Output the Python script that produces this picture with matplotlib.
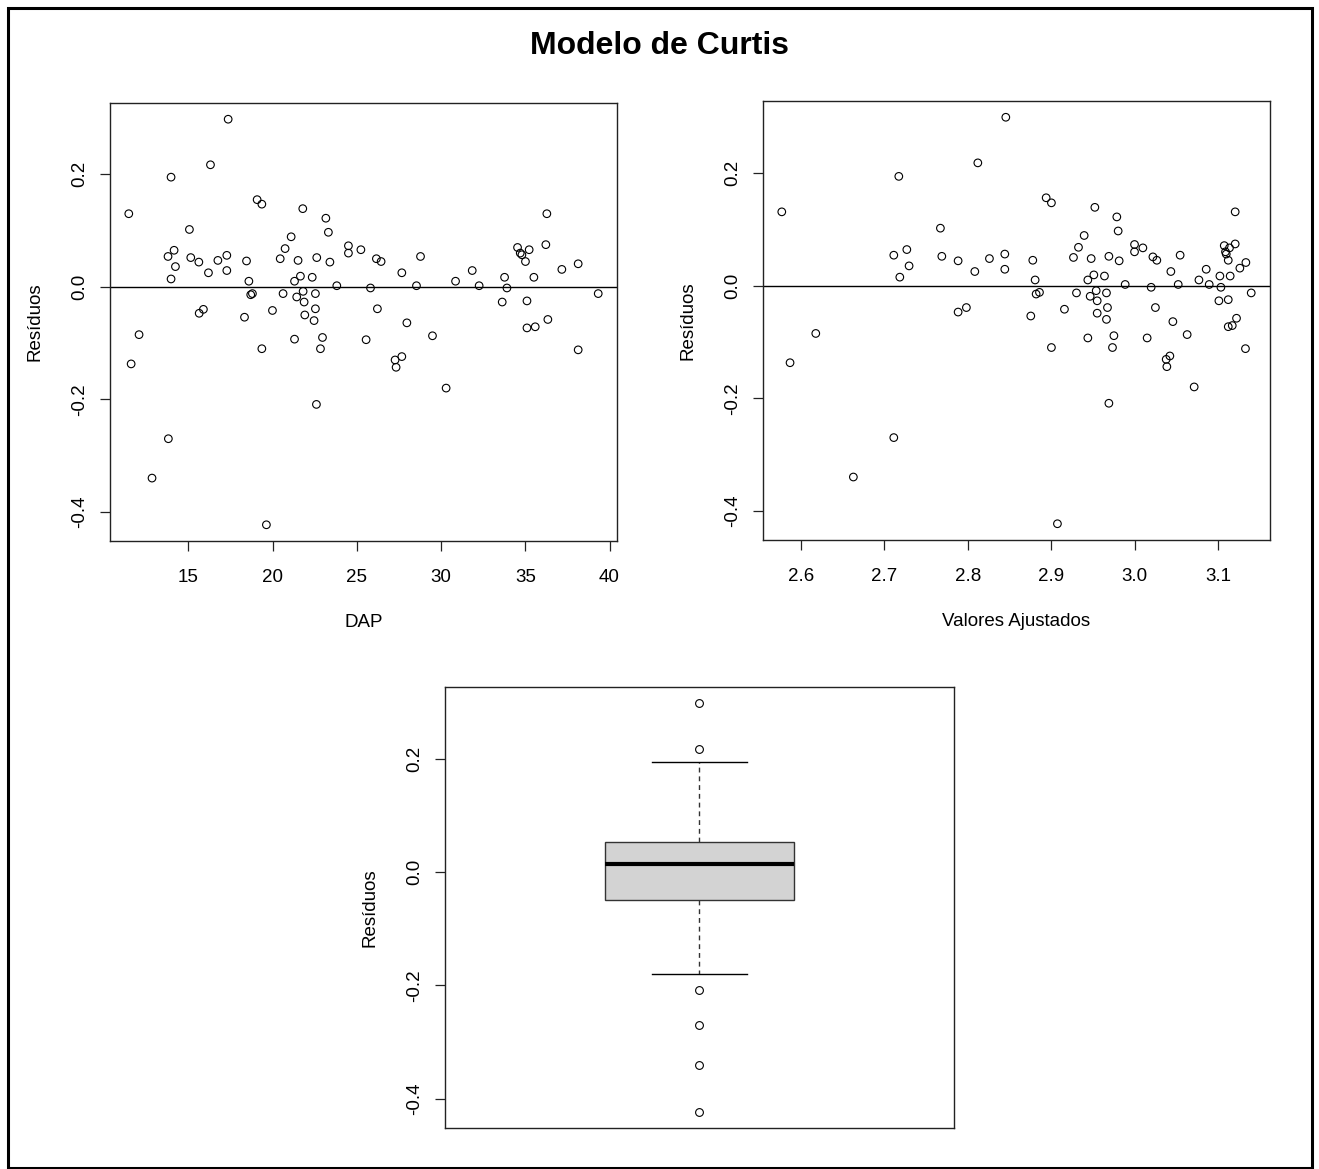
import matplotlib
matplotlib.use('Agg')
import matplotlib.pyplot as plt
from matplotlib.patches import Rectangle
from matplotlib.ticker import FormatStrFormatter

plt.rcParams['font.family'] = ['Liberation Sans', 'DejaVu Sans']
plt.rcParams['axes.unicode_minus'] = False

TITULO = 'Modelo de Curtis'
YLABEL = 'Resíduos'

dap = [17.36, 16.31, 13.97, 11.46, 19.08, 19.36, 21.79, 23.16, 23.31, 15.06,
       21.10, 20.74, 24.50, 24.50, 25.24, 14.15, 13.79, 15.14, 15.62, 16.75,
       17.28, 18.45, 20.45, 21.51, 22.62, 23.40, 14.23, 16.19, 17.28, 13.97,
       18.59, 21.65, 21.30, 22.35, 23.81, 18.70, 18.80, 20.62, 21.43, 21.81,
       21.87, 22.54, 15.89, 15.64, 18.33, 19.99, 21.91, 22.54, 22.46, 12.07,
       11.60, 19.36, 21.30, 22.96, 22.84, 25.55, 22.60, 13.81, 12.84, 19.63,
       36.28, 26.16, 26.44, 28.78, 27.67, 31.85, 30.86, 25.81, 28.54, 32.26,
       33.77, 33.91, 34.54, 34.70, 34.80, 35.23, 35.01, 36.22, 35.51, 37.17,
       38.14, 39.33, 26.22, 33.63, 35.10, 27.97, 35.10, 35.59, 36.34, 29.49,
       27.27, 27.67, 27.33, 38.14, 30.30]
res_dap = [0.298, 0.217, 0.195, 0.130, 0.155, 0.147, 0.139, 0.122, 0.097, 0.102,
           0.089, 0.068, 0.073, 0.060, 0.066, 0.065, 0.054, 0.052, 0.044, 0.047,
           0.056, 0.046, 0.050, 0.047, 0.052, 0.044, 0.036, 0.025, 0.029, 0.014,
           0.010, 0.019, 0.010, 0.017, 0.002, -0.014, -0.012, -0.012, -0.018, -0.008,
           -0.027, -0.012, -0.040, -0.047, -0.054, -0.042, -0.050, -0.039, -0.060, -0.085,
           -0.137, -0.110, -0.093, -0.090, -0.110, -0.094, -0.209, -0.270, -0.340, -0.423,
           0.130, 0.050, 0.045, 0.054, 0.025, 0.029, 0.010, -0.002, 0.002, 0.002,
           0.017, -0.002, 0.070, 0.060, 0.057, 0.066, 0.045, 0.075, 0.017, 0.031,
           0.041, -0.012, -0.039, -0.027, -0.025, -0.064, -0.073, -0.071, -0.058, -0.087,
           -0.130, -0.124, -0.143, -0.112, -0.180]

# residuos x valores ajustados (grafico da direita)
ajustados = [2.8455, 2.8120, 2.7174, 2.5773, 2.7672, 2.7114, 2.7270, 2.7297, 2.7186, 2.7689,
             2.7884, 2.8084, 2.8259, 2.8443, 2.8443, 2.7884, 2.7983, 2.5872, 2.6180, 2.6630,
             2.7114, 2.8938, 2.9001, 2.9521, 2.9784, 2.9800, 2.9393, 2.9325, 2.9265, 2.9477,
             2.9689, 2.9812, 2.9996, 2.9996, 3.0096, 3.0216, 3.0263, 3.0542, 3.0431, 2.8778,
             2.8806, 2.9437, 2.9509, 2.9636, 2.9884, 3.0195, 3.0519, 3.0767, 3.0854, 3.0890,
             3.1018, 3.1030, 3.1141, 3.1257, 3.1329, 3.1201, 3.1070, 3.1133, 3.1201, 3.1085,
             3.1094, 3.1118, 3.1393, 2.8818, 2.8858, 2.9301, 2.9465, 2.9537, 2.9549, 2.9660,
             2.8754, 2.9157, 2.9549, 2.9672, 2.9660, 3.0246, 3.0455, 3.1006, 3.1118, 3.1217,
             3.1118, 3.1166, 2.9001, 2.9437, 2.9749, 2.9732, 3.0147, 3.0626, 3.0375, 3.0419,
             3.0383, 3.1324, 3.0710, 2.9689, 2.9073]
res_ajust = [0.299, 0.218, 0.194, 0.131, 0.102, 0.054, 0.064, 0.035, 0.015, 0.052,
             0.044, 0.025, 0.048, 0.056, 0.029, -0.047, -0.039, -0.137, -0.085, -0.340,
             -0.270, 0.156, 0.147, 0.139, 0.122, 0.097, 0.089, 0.068, 0.050, 0.048,
             0.052, 0.044, 0.073, 0.060, 0.067, 0.051, 0.045, 0.054, 0.025, 0.045,
             0.010, 0.010, 0.019, 0.017, 0.002, -0.003, 0.002, 0.010, 0.029, 0.002,
             0.017, -0.003, 0.017, 0.031, 0.041, 0.131, 0.071, 0.067, 0.074, 0.060,
             0.056, 0.045, -0.013, -0.015, -0.012, -0.013, -0.019, -0.009, -0.027, -0.013,
             -0.054, -0.042, -0.049, -0.039, -0.060, -0.039, -0.064, -0.027, -0.025, -0.058,
             -0.073, -0.071, -0.110, -0.093, -0.089, -0.110, -0.093, -0.087, -0.131, -0.125,
             -0.144, -0.112, -0.180, -0.209, -0.423]

W, H = 1319, 1169
FS = 13.5


def Lims(v):
    # como o R: amplia 4% para cada lado
    lo, hi = min(v), max(v)
    d = (hi - lo) * 0.04
    return lo - d, hi + d


def Caixa(fig, x0, y0, x1, y1):
    # coordenadas em pixels da imagem (y para baixo)
    return fig.add_axes([x0 / W, 1 - y1 / H, (x1 - x0) / W, (y1 - y0) / H])


def EstiloR(ax, ylim):
    for s in ax.spines.values():
        s.set_linewidth(1)
        s.set_color('#222222')
    ax.tick_params(direction='out', length=7.5, width=0.9, color='#222222',
                   labelsize=FS)
    ax.tick_params(axis='x', pad=12.5)
    ax.tick_params(axis='y', pad=8)
    ax.set_ylim(*ylim)
    ax.set_yticks([-0.4, -0.2, 0.0, 0.2])
    ax.yaxis.set_major_formatter(FormatStrFormatter('%.1f'))
    plt.setp(ax.get_yticklabels(), rotation=90, va='center')
    ax.set_ylabel(YLABEL, fontsize=FS, labelpad=20)


def Dispersao(ax, x, y, xticks, fmt, xlabel):
    ax.scatter(x, y, s=30, facecolors='none', edgecolors='black', linewidths=0.8)
    ax.axhline(0, color='black', lw=1)
    ax.set_xlim(*Lims(x))
    ax.set_xticks(xticks)
    ax.xaxis.set_major_formatter(FormatStrFormatter(fmt))
    ax.set_xlabel(xlabel, fontsize=FS, labelpad=20.5)
    EstiloR(ax, Lims(y))


def Boxplot(ax, y):
    ax.boxplot(y, positions=[1], widths=0.4, patch_artist=True,
               boxprops=dict(facecolor='#D3D3D3', edgecolor='#333333', linewidth=1),
               medianprops=dict(color='black', linewidth=3),
               whiskerprops=dict(color='#333333', linewidth=1, linestyle=(0, (3.5, 2.8))),
               capprops=dict(color='black', linewidth=1),
               flierprops=dict(marker='o', markerfacecolor='none', markeredgecolor='black',
                               markersize=5.6, markeredgewidth=0.8))
    ax.set_xlim(1 - 0.5396, 1 + 0.5396)
    ax.set_xticks([])
    EstiloR(ax, Lims(y))


def main():
    fig = plt.figure(figsize=(W / 100, H / 100), dpi=100)
    fig.patches.append(Rectangle((8 / W, 1 / H), 1304 / W, 1160 / H, transform=fig.transFigure,
                                 fill=False, edgecolor='black', linewidth=2.2))
    fig.text(660 / W, 1 - 46 / H, TITULO, ha='center', va='center',
             fontsize=23, fontweight='bold')

    ax1 = Caixa(fig, 110, 103, 617, 541)
    Dispersao(ax1, dap, res_dap, [15, 20, 25, 30, 35, 40], '%d', 'DAP')

    ax2 = Caixa(fig, 763, 101, 1270, 540)
    Dispersao(ax2, ajustados, res_ajust, [2.6, 2.7, 2.8, 2.9, 3.0, 3.1], '%.1f',
              'Valores Ajustados')

    ax3 = Caixa(fig, 445, 687, 954, 1128)
    Boxplot(ax3, res_dap)

    fig.savefig('out.png', dpi=100)


main()
